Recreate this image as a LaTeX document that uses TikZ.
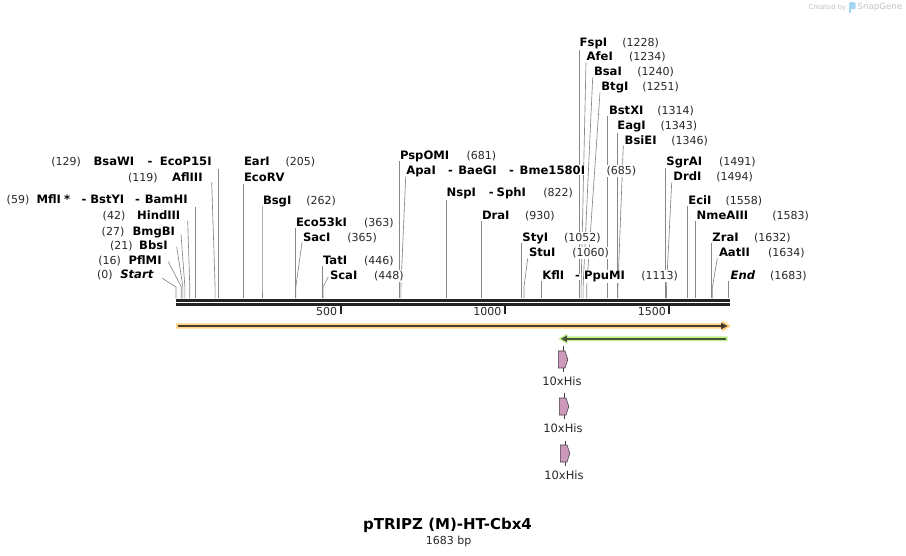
\documentclass[tikz,border=0pt]{standalone}
\usepackage{fontspec}
\setmainfont{DejaVu Sans}
\definecolor{cutgray}{RGB}{135,135,135}
\definecolor{numcol}{RGB}{40,40,40}
\definecolor{bardark}{RGB}{35,35,35}
\definecolor{orhalo}{RGB}{255,210,130}
\definecolor{ordark}{RGB}{72,60,44}
\definecolor{grhalo}{RGB}{190,240,140}
\definecolor{grdark}{RGB}{72,84,56}
\definecolor{hisfill}{RGB}{204,153,187}
\definecolor{hisline}{RGB}{70,60,70}
\definecolor{logogray}{RGB}{195,195,195}
\definecolor{logoblue}{RGB}{165,212,240}
\tikzset{
  nm/.style={anchor=base west, fill=white, inner xsep=0.5pt, inner ysep=1pt, yshift=-4.2pt,
    font=\fontsize{11.6}{13}\selectfont\bfseries, text=black},
  nmR/.style={nm, anchor=base east},
  nu/.style={anchor=base west, fill=white, inner xsep=0.5pt, inner ysep=1pt, yshift=-4.2pt,
    font=\fontsize{11}{13}\selectfont, text=numcol},
  nuR/.style={nu, anchor=base east},
  cutln/.style={draw=cutgray, line width=0.65pt},
  barln/.style={draw=bardark, line width=2.6pt},
  tickln/.style={draw=bardark, line width=1.8pt},
  ticklab/.style={anchor=base east, inner sep=0pt, yshift=-4pt, font=\fontsize{11}{13}\selectfont, text=numcol},
  hisbox/.style={fill=hisfill, draw=hisline, line width=0.6pt},
  hislab/.style={inner sep=0pt, font=\fontsize{11.5}{13}\selectfont, text=numcol},
}
\newcommand{\enzline}[3]{%
  \coordinate (a-#1) at #2;
  \coordinate (s-#1) at (#3,287);
  \coordinate (b-#1) at (#3,298.5);
  \draw[cutln] (a-#1) -- (s-#1) -- (b-#1);}
\begin{document}
\begin{tikzpicture}[x=1pt,y=-1pt]
\useasboundingbox (0,0) rectangle (906,556);
\fill[white] (0,0) rectangle (906,556);

% ---- cut-site connectors
\enzline{Start}{(162.3,278.3)}{176.0}
\enzline{PflMI}{(168.3,261.7)}{181.3}
\enzline{BbsI}{(176.7,246.7)}{182.9}
\enzline{BmgBI}{(181,234.3)}{184.9}
\enzline{HindIII}{(187.7,221)}{189.8}
\enzline{MflI}{(195.4,206.7)}{195.4}
\enzline{AflIII}{(211.7,182.3)}{215.1}
\enzline{BsaWI}{(218.4,169)}{218.4}
\enzline{EarI}{(243.3,184)}{243.3}
\enzline{BsgI}{(262,206)}{262.0}
\enzline{EcoFT}{(295.2,228.5)}{295.2}
\enzline{SacI}{(302,242.5)}{295.8}
\enzline{TatI}{(322.4,266.5)}{322.4}
\enzline{ScaI}{(328.3,276.7)}{323.1}
\enzline{PspOMI}{(399.6,161.5)}{399.6}
\enzline{ApaI}{(405.7,176.7)}{400.9}
\enzline{NspI}{(445.9,198.5)}{445.9}
\enzline{DraI}{(481.3,221.5)}{481.3}
\enzline{StyI}{(521.4,243.5)}{521.4}
\enzline{StuI}{(527.7,258.3)}{524.0}
\enzline{KflI}{(541.4,281)}{541.4}
\enzline{FspI}{(579.2,48.5)}{579.2}
\enzline{AfeI}{(586,62.5)}{581.1}
\enzline{BsaI}{(592.7,77.5)}{583.1}
\enzline{BtgI}{(600,92.5)}{586.7}
\enzline{BstXI}{(607.4,116)}{607.4}
\enzline{EagI}{(616.9,131)}{616.9}
\enzline{BsiEI}{(623.3,145.5)}{617.9}
\enzline{SgrAI}{(665.5,168)}{665.5}
\enzline{DrdI}{(671.7,182.5)}{666.5}
\enzline{EciI}{(687.5,206)}{687.5}
\enzline{NmeAIII}{(695.7,221)}{695.7}
\enzline{ZraI}{(711.8,243.5)}{711.8}
\enzline{AatII}{(717.3,258.3)}{712.4}
\enzline{End}{(728.5,281)}{728.5}

% ---- left cluster labels
\node[nuR] (p129) at (81.7,161.7) {(129)};
\node[nmR] (lBsaWI) at (135,161.7) {BsaWI};
\node[nm]  (d129) at (147,161.7) {-};
\node[nmR] (lEcoP15I) at (212.3,161.7) {EcoP15I};
\node[nuR] (p119) at (158.3,177.3) {(119)};
\node[nmR] (lAflIII) at (203.3,177.3) {AflIII};
\node[nuR] (p59) at (30,199) {(59)};
\node[nmR] (lMflI) at (61.7,199) {MflI};
\node[nm]  (star59) at (63.3,199) {*};
\node[nm]  (d59a) at (81,199) {-};
\node[nmR] (lBstYI) at (125,199) {BstYI};
\node[nm]  (d59b) at (134.5,199) {-};
\node[nmR] (lBamHI) at (188.3,199) {BamHI};
\node[nuR] (p42) at (126,215.7) {(42)};
\node[nmR] (lHindIII) at (181,215.7) {HindIII};
\node[nuR] (p27) at (125,231) {(27)};
\node[nmR] (lBmgBI) at (175.7,231) {BmgBI};
\node[nuR] (p21) at (133.3,245) {(21)};
\node[nmR] (lBbsI) at (168.3,245) {BbsI};
\node[nuR] (p16) at (121.7,260) {(16)};
\node[nmR] (lPflMI) at (162.3,260) {PflMI};
\node[nuR] (p0) at (113.3,274) {(0)};
\node[nmR, font=\fontsize{11.6}{13}\selectfont\bfseries\itshape] (lStart) at (154,274) {Start};

% ---- middle labels
\node[nm] (lEarI) at (243.3,161.7) {EarI};
\node[nu] (p205) at (285,161.7) {(205)};
\node[nm] (lEcoRV) at (243.3,177.3) {EcoRV};
\node[nm] (lBsgI) at (262.3,200) {BsgI};
\node[nu] (p262) at (305.7,200) {(262)};
\node[nm] (lEco53kI) at (295.3,222.3) {Eco53kI};
\node[nu] (p363) at (363.3,222.3) {(363)};
\node[nm] (lSacI) at (302.3,237.3) {SacI};
\node[nu] (p365) at (346.7,237.3) {(365)};
\node[nm] (lTatI) at (322.3,260) {TatI};
\node[nu] (p446) at (363.3,260) {(446)};
\node[nm] (lScaI) at (329.3,275) {ScaI};
\node[nu] (p448) at (373.3,275) {(448)};
\node[nm] (lPspOMI) at (399.3,155) {PspOMI};
\node[nu] (p681) at (466,155) {(681)};
\node[nm] (lApaI) at (405.7,170) {ApaI};
\node[nm] (d685a) at (447.5,170) {-};
\node[nm] (lBaeGI) at (457.7,170) {BaeGI};
\node[nm] (d685b) at (508.5,170) {-};
\node[nm] (lBme) at (519,170) {Bme1580I};
\node[nu] (p685) at (606,170) {(685)};
\node[nm] (lNspI) at (446,192.3) {NspI};
\node[nm] (d822) at (488.2,192.3) {-};
\node[nm] (lSphI) at (496,192.3) {SphI};
\node[nu] (p822) at (542.7,192.3) {(822)};
\node[nm] (lDraI) at (481.3,215.7) {DraI};
\node[nu] (p930) at (524.3,215.7) {(930)};
\node[nm] (lStyI) at (521.7,237.3) {StyI};
\node[nu] (p1052) at (563.3,237.3) {(1052)};
\node[nm] (lStuI) at (528.3,252.3) {StuI};
\node[nu] (p1060) at (571.7,252.3) {(1060)};
\node[nm] (lKflI) at (541.7,275) {KflI};
\node[nm] (d1113) at (574.5,275) {-};
\node[nm] (lPpuMI) at (583.3,275) {PpuMI};
\node[nu] (p1113) at (640.7,275) {(1113)};

% ---- right labels
\node[nm] (lFspI) at (579,42.7) {FspI};
\node[nu] (p1228) at (621.7,42.7) {(1228)};
\node[nm] (lAfeI) at (586,56.7) {AfeI};
\node[nu] (p1234) at (628.3,56.7) {(1234)};
\node[nm] (lBsaI) at (593.3,71.7) {BsaI};
\node[nu] (p1240) at (636.7,71.7) {(1240)};
\node[nm] (lBtgI) at (600.7,86.7) {BtgI};
\node[nu] (p1251) at (641.7,86.7) {(1251)};
\node[nm] (lBstXI) at (608.3,110) {BstXI};
\node[nu] (p1314) at (656.7,110) {(1314)};
\node[nm] (lEagI) at (616.7,125) {EagI};
\node[nu] (p1343) at (660,125) {(1343)};
\node[nm] (lBsiEI) at (624,140) {BsiEI};
\node[nu] (p1346) at (670.7,140) {(1346)};
\node[nm] (lSgrAI) at (665.7,161.7) {SgrAI};
\node[nu] (p1491) at (718.3,161.7) {(1491)};
\node[nm] (lDrdI) at (672.7,176.7) {DrdI};
\node[nu] (p1494) at (715.7,176.7) {(1494)};
\node[nm] (lEciI) at (687.7,200) {EciI};
\node[nu] (p1558) at (725,200) {(1558)};
\node[nm] (lNmeAIII) at (696,215) {NmeAIII};
\node[nu] (p1583) at (771.7,215) {(1583)};
\node[nm] (lZraI) at (711.7,237.3) {ZraI};
\node[nu] (p1632) at (753.3,237.3) {(1632)};
\node[nm] (lAatII) at (718.3,252.3) {AatII};
\node[nu] (p1634) at (767.3,252.3) {(1634)};
\node[nm, font=\fontsize{11.6}{13}\selectfont\bfseries\itshape] (lEnd) at (730,275) {End};
\node[nu] (p1683) at (769.3,275) {(1683)};

% ---- sequence bar and ruler
\coordinate (barL) at (176,0);
\coordinate (barR) at (730,0);
\draw[barln] (barL |- 0,300.4) -- (barR |- 0,300.4);
\draw[barln] (barL |- 0,304.6) -- (barR |- 0,304.6);
\coordinate (t500) at (340.6,306);
\coordinate (t1000) at (504.7,306);
\coordinate (t1500) at (669,306);
\draw[tickln] (t500) -- ++(0,8.5);
\draw[tickln] (t1000) -- ++(0,8.5);
\draw[tickln] (t1500) -- ++(0,8.5);
\node[ticklab] (r500) at (337.3,311.5) {500};
\node[ticklab] (r1000) at (501.5,311.5) {1000};
\node[ticklab] (r1500) at (666,311.5) {1500};

% ---- features
\fill[orhalo] (176,323.4) -- (722,323.4) -- (722,320.4) -- (731,326) -- (722,331.6)
  -- (722,328.6) -- (176,328.6) -- cycle;
\draw[ordark, line width=2.3pt] (177.5,326) -- (723,326);
\fill[ordark] (721,322.6) -- (727.5,326) -- (721,329.4) -- cycle;

\fill[grhalo] (727.5,336.4) -- (567,336.4) -- (567,333.6) -- (558.5,338.8) -- (567,344)
  -- (567,341.2) -- (727.5,341.2) -- cycle;
\draw[grdark, line width=2.3pt] (725.5,338.8) -- (565,338.8);
\fill[grdark] (567,335.4) -- (561,338.8) -- (567,342.2) -- cycle;

% ---- 10xHis features
\draw[hisline, line width=0.6pt] (563.1,346.5) -- (563.1,372);
\fill[hisbox] (558.3,351) -- (565,351) -- (567.8,359.5) -- (565,368) -- (558.3,368) -- cycle;
\node[hislab] (his1) at (562,381) {10xHis};
\draw[hisline, line width=0.6pt] (564.1,393.5) -- (564.1,419);
\fill[hisbox] (559.3,398) -- (566,398) -- (568.8,406.5) -- (566,415) -- (559.3,415) -- cycle;
\node[hislab] (his2) at (563,428) {10xHis};
\draw[hisline, line width=0.6pt] (565.1,440.5) -- (565.1,466);
\fill[hisbox] (560.3,445) -- (567,445) -- (569.8,453.5) -- (567,462) -- (560.3,462) -- cycle;
\node[hislab] (his3) at (564,475) {10xHis};

% ---- title
\node[inner sep=0pt, font=\fontsize{15}{17}\selectfont\bfseries] (title) at (447.5,525) {pTRIPZ (M)-HT-Cbx4};
\node[inner sep=0pt, font=\fontsize{11}{13}\selectfont, text=numcol] (len) at (448.7,541) {1683 bp};

% ---- logo
\node[inner sep=0pt, anchor=west, font=\fontsize{6.8}{8}\selectfont, text=logogray] (cby) at (808.5,7.3) {Created by};
\fill[logoblue, rounded corners=1.2pt] (849,2.2) rectangle (855.5,9.2);
\fill[logoblue] (849,8) rectangle (851.2,13);
\node[inner sep=0pt, anchor=west, font=\fontsize{8.6}{10}\selectfont, text=logogray] (snap) at (857.5,7.3) {SnapGene};
\end{tikzpicture}
\end{document}
